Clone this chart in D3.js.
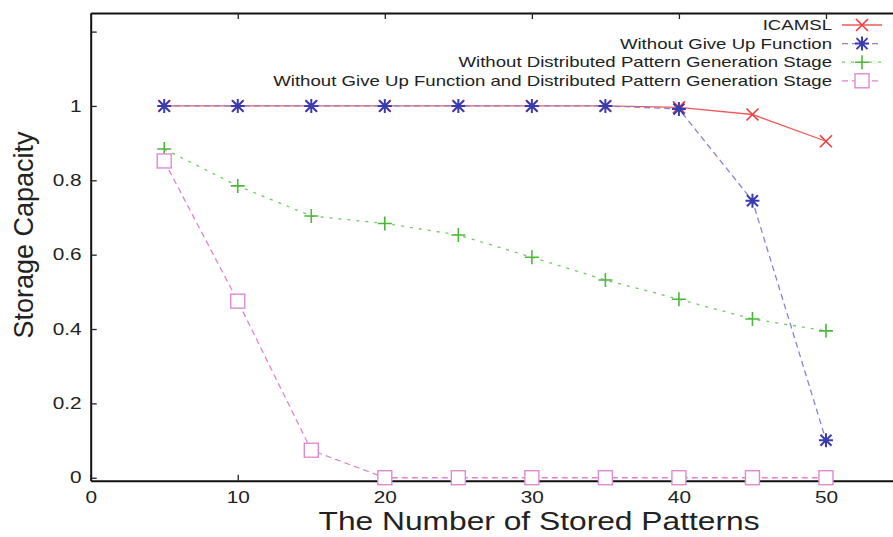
<!DOCTYPE html>
<html>
<head>
<meta charset="utf-8">
<script src="https://cdn.jsdelivr.net/npm/d3@7"></script>
<style>
  body { margin: 0; background: #fff; }
  text { font-family: "Liberation Sans", Arial, sans-serif; fill: #222; }
</style>
</head>
<body>
<div id="chart"></div>
<script>
let width = 893,
    height = 537

// plot frame (the right edge runs just past the window, as in the original)
let frame = { left: 90.7, right: 899.5, top: 13, bottom: 480.7 }

// data
let patterns = [5, 10, 15, 20, 25, 30, 35, 40, 45, 50]
let icamsl = [1, 1, 1, 1, 1, 1, 1, 0.996, 0.977, 0.905]
let noGiveUp = [1, 1, 1, 1, 1, 1, 1, 0.992, 0.745, 0.101]
let noDistributed = [0.884, 0.785, 0.704, 0.684, 0.653, 0.593, 0.532, 0.48, 0.427, 0.395]
let noBoth = [0.852, 0.475, 0.074, 0, 0, 0, 0, 0, 0, 0]

let xTicks = [0, 10, 20, 30, 40, 50]
let yTicks = [0, 0.2, 0.4, 0.6, 0.8, 1, 1.2]
let yTickLabels = ["0", "0.2", "0.4", "0.6", "0.8", "1", ""]

let seriesNames = [
    "ICAMSL",
    "Without Give Up Function",
    "Without Distributed Pattern Generation Stage",
    "Without Give Up Function and Distributed Pattern Generation Stage"
]
let seriesValues = [icamsl, noGiveUp, noDistributed, noBoth]

let styles = [
    { line: "#f05a5a", mark: "#f03c3c", dash: null, marker: "x" },
    { line: "#8484d8", mark: "#3b3bb0", dash: "6,4", marker: "star" },
    { line: "#74c864", mark: "#4cb83a", dash: "3,6", marker: "plus" },
    { line: "#e184cf", mark: "#e08ad2", dash: "6,4", marker: "square" }
]

let stretch = 1.3

let xScale = d3.scaleLinear().domain([0, 55]).range([frame.left, frame.right])
let yScale = d3.scaleLinear().domain([-0.008, 1.25]).range([frame.bottom, frame.top])

let svg = d3.select("#chart")
    .append("svg")
    .attr("width", width)
    .attr("height", height)

function markerPath(type) {
    if (type == "x") {
        let s = 6
        return `M${-s},${-s}L${s},${s}M${-s},${s}L${s},${-s}`
    }
    if (type == "plus") {
        let s = 7
        return `M${-s},0L${s},0M0,${-s}L0,${s}`
    }
    if (type == "star") {
        let s = 7, d = 5.5
        return `M${-s},0L${s},0M0,${-s}L0,${s}M${-d},${-d}L${d},${d}M${-d},${d}L${d},${-d}`
    }
    return null
}

function drawMarker(g, type, color, x, y) {
    if (type == "square") {
        g.append("rect")
            .attr("x", x - 7)
            .attr("y", y - 7)
            .attr("width", 14)
            .attr("height", 14)
            .attr("fill", "#fff")
            .attr("stroke", color)
            .attr("stroke-width", 1.4)
    } else {
        g.append("path")
            .attr("transform", "translate(" + x + "," + y + ")")
            .attr("d", markerPath(type))
            .attr("fill", "none")
            .attr("stroke", color)
            .attr("stroke-width", type == "star" ? 2 : 1.6)
    }
}

// axes with inward ticks, mirrored on top and right
let yAxis = d3.axisLeft(yScale)
    .tickValues(yTicks)
    .tickSizeInner(-6)
    .tickSizeOuter(0)
    .tickPadding(7)
    .tickFormat(function (d, i) { return yTickLabels[i] })

let xAxis = d3.axisBottom(xScale)
    .tickValues(xTicks)
    .tickSizeInner(-6)
    .tickSizeOuter(0)
    .tickPadding(11)
    .tickFormat(d3.format("d"))

let gx = svg.append("g")
    .attr("transform", "translate(0," + frame.bottom + ")")
    .call(xAxis)

let gy = svg.append("g")
    .attr("transform", "translate(" + frame.left + ",0)")
    .call(yAxis)

svg.append("g")
    .attr("transform", "translate(0," + frame.top + ")")
    .call(d3.axisTop(xScale).tickValues(xTicks).tickSizeInner(-6).tickSizeOuter(0).tickFormat(""))

svg.append("g")
    .attr("transform", "translate(" + frame.right + ",0)")
    .call(d3.axisRight(yScale).tickValues(yTicks).tickSizeInner(-6).tickSizeOuter(0).tickFormat(""))

svg.selectAll(".tick line").attr("stroke", "#222").attr("stroke-width", 1.3)
svg.selectAll(".domain").attr("stroke", "#111").attr("stroke-width", 2)
svg.selectAll(".tick text")
    .style("font-size", "16px")
    .style("font-family", "Liberation Sans, Arial, sans-serif")
    .attr("fill", "#2a2a2a")
    .attr("transform", "scale(" + stretch + ",1)")
gy.selectAll(".tick text").attr("x", -7)

// series
seriesValues.forEach(function (values, k) {
    let st = styles[k]
    let g = svg.append("g")
    let line = d3.line()
        .x(function (d, i) { return xScale(patterns[i]) })
        .y(function (d) { return yScale(d) })

    g.append("path")
        .datum(values)
        .attr("d", line)
        .attr("fill", "none")
        .attr("stroke", st.line)
        .attr("stroke-width", 1.3)
        .attr("stroke-dasharray", st.dash)

    values.forEach(function (v, i) {
        drawMarker(g, st.marker, st.mark, xScale(patterns[i]), yScale(v))
    })
})

// legend
let legendRight = 832,
    legendTop = 25,
    legendStep = 18.6

seriesNames.forEach(function (name, k) {
    let st = styles[k]
    let y = legendTop + k * legendStep
    svg.append("text")
        .attr("transform", "translate(" + legendRight + "," + (y + 5) + ") scale(1.33,1)")
        .attr("text-anchor", "end")
        .style("font-size", "14px")
        .text(name)
    svg.append("line")
        .attr("x1", 842)
        .attr("x2", 882)
        .attr("y1", y)
        .attr("y2", y)
        .attr("stroke", st.line)
        .attr("stroke-width", 1.3)
        .attr("stroke-dasharray", st.dash)
    drawMarker(svg, st.marker, st.mark, 862, y)
})

// axis titles
svg.append("text")
    .attr("transform", "translate(539,530) scale(1.27,1)")
    .attr("text-anchor", "middle")
    .style("font-size", "25px")
    .text("The Number of Stored Patterns")

svg.append("text")
    .attr("transform", "translate(33,235) rotate(-90)")
    .attr("text-anchor", "middle")
    .style("font-size", "27px")
    .text("Storage Capacity")
</script>
</body>
</html>
